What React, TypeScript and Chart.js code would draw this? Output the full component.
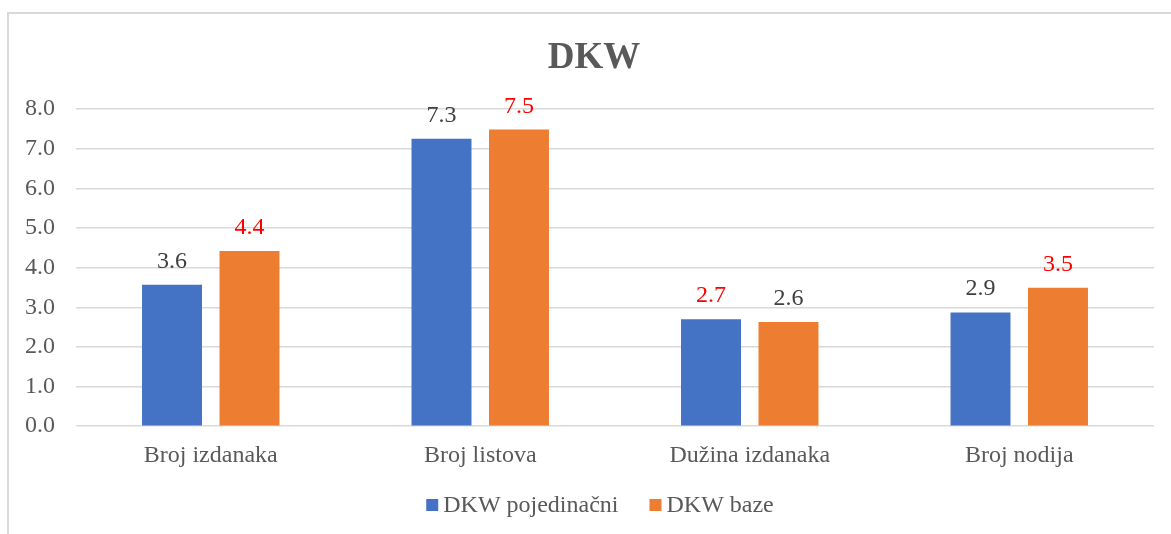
import React, { useEffect, useRef } from "react";
import { Chart, registerables } from "chart.js";

Chart.register(...registerables);

const categories = ["Broj izdanaka", "Broj listova", "Dužina izdanaka", "Broj nodija"];
const seriesNames = ["DKW pojedinačni", "DKW baze"];
const pojedinacni = [3.57, 7.25, 2.7, 2.87];
const baze = [4.42, 7.48, 2.63, 3.49];
const pojedinacniLabelRed = [false, false, true, false];
const bazeLabelRed = [true, true, false, true];
const yTicks = [0, 1, 2, 3, 4, 5, 6, 7, 8];
const titleText = "DKW";

const FONT = "'Liberation Serif', 'Times New Roman', serif";
const TEXT = "#595959";
const COLORS = ["#4472C4", "#ED7D31"];

const titlePlugin = {
  id: "customTitle",
  afterDraw(chart: any) {
    const ctx = chart.ctx;
    ctx.save();
    ctx.font = `bold 37px ${FONT}`;
    ctx.fillStyle = TEXT;
    ctx.textAlign = "center";
    ctx.textBaseline = "alphabetic";
    ctx.fillText(titleText, 594, 68);
    ctx.restore();
  },
};

const labelPlugin = {
  id: "valueLabels",
  afterDatasetsDraw(chart: any) {
    const ctx = chart.ctx;
    const reds = [pojedinacniLabelRed, bazeLabelRed];
    ctx.save();
    ctx.font = `24px ${FONT}`;
    ctx.textAlign = "center";
    ctx.textBaseline = "alphabetic";
    chart.data.datasets.forEach((ds: any, di: number) => {
      const meta = chart.getDatasetMeta(di);
      meta.data.forEach((bar: any, i: number) => {
        const v = ds.data[i] as number;
        ctx.fillStyle = reds[di][i] ? "#FF0000" : "#404040";
        ctx.fillText(v.toFixed(1), bar.x, bar.y - 17);
      });
    });
    ctx.restore();
  },
};

const legendPlugin = {
  id: "customLegend",
  afterDraw(chart: any) {
    const ctx = chart.ctx;
    ctx.save();
    ctx.font = `24px ${FONT}`;
    ctx.textBaseline = "middle";
    ctx.textAlign = "left";
    const box = 12;
    const gap = 5;
    const itemGap = 31;
    const widths = seriesNames.map((n) => box + gap + ctx.measureText(n).width);
    const total = widths.reduce((a, b) => a + b, 0) + itemGap * (seriesNames.length - 1);
    let x = 600 - total / 2;
    const y = 505;
    seriesNames.forEach((n, i) => {
      ctx.fillStyle = COLORS[i];
      ctx.fillRect(x, y - box / 2, box, box);
      ctx.fillStyle = TEXT;
      ctx.fillText(n, x + box + gap, y + 1);
      x += widths[i] + itemGap;
    });
    ctx.restore();
  },
};

export default function App() {
  const ref = useRef<HTMLCanvasElement>(null);
  useEffect(() => {
    if (!ref.current) return;
    const chart = new Chart(ref.current, {
      type: "bar",
      data: {
        labels: categories,
        datasets: [
          {
            label: seriesNames[0],
            data: pojedinacni,
            backgroundColor: COLORS[0],
            categoryPercentage: 0.575,
            barPercentage: 0.774,
          },
          {
            label: seriesNames[1],
            data: baze,
            backgroundColor: COLORS[1],
            categoryPercentage: 0.575,
            barPercentage: 0.774,
          },
        ],
      },
      options: {
        animation: false,
        responsive: false,
        maintainAspectRatio: false,
        layout: { padding: { left: 4, right: 17, top: 109, bottom: 49 } },
        plugins: {
          legend: { display: false },
          tooltip: { enabled: false },
          title: { display: false },
        },
        scales: {
          x: {
            grid: { display: false, drawTicks: false },
            border: { display: false },
            ticks: { color: TEXT, font: { family: FONT, size: 24 }, padding: 15 },
          },
          y: {
            min: 0,
            max: 8,
            afterBuildTicks: (axis: any) => {
              axis.ticks = yTicks.map((v) => ({ value: v }));
            },
            grid: { color: "#d9d9d9", lineWidth: 1.5, drawTicks: false },
            border: { display: false },
            ticks: {
              color: TEXT,
              font: { family: FONT, size: 24 },
              padding: 21,
              callback: (v: any) => Number(v).toFixed(1),
            },
          },
        },
      },
      plugins: [labelPlugin, legendPlugin, titlePlugin],
    });
    return () => chart.destroy();
  }, []);

  return (
    <div
      style={{
        position: "fixed",
        left: 0,
        top: 0,
        width: 1171,
        height: 534,
        overflow: "hidden",
        background: "#ffffff",
      }}
    >
      <div
        style={{
          position: "absolute",
          left: 7,
          top: 12,
          width: 1300,
          height: 700,
          borderLeft: "2px solid #d9d9d9",
          borderTop: "2px solid #d9d9d9",
        }}
      />
      <canvas
        ref={ref}
        width={1171}
        height={534}
        style={{ position: "absolute", left: 0, top: 0, width: 1171, height: 534 }}
      />
    </div>
  );
}
